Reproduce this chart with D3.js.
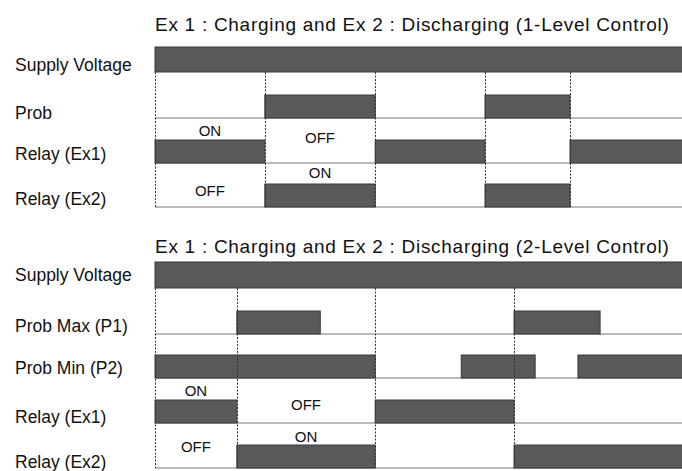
<!DOCTYPE html>
<html lang="en">
<head>
<meta charset="UTF-8">
<title>Relay timing</title>
<script src="https://cdn.jsdelivr.net/npm/d3@7"></script>
<style>
  body { margin: 0; background: #fff; }
  text { font-family: "Liberation Sans", Arial, sans-serif; fill: #111; }
</style>
</head>
<body>
<script>
// time runs 0..100 across the diagram (cut at right edge)
let titles = ["Ex 1 : Charging and Ex 2 : Discharging (1-Level Control)",
              "Ex 1 : Charging and Ex 2 : Discharging (2-Level Control)"]

// section 1 (1-level)
let rows1 = ["Supply Voltage", "Prob", "Relay (Ex1)", "Relay (Ex2)"]
let high1 = [
    [[0, 100]],
    [[20.8, 41.7], [62.5, 78.6]],
    [[0, 20.8], [41.7, 62.5], [78.6, 100]],
    [[20.8, 41.7], [62.5, 78.6]]
]
let marks1 = [0, 20.8, 41.7, 62.5, 78.6]
let notes1 = [
    {row: 2, from: 0, to: 20.8, text: "ON"},
    {row: 2, from: 20.8, to: 41.7, text: "OFF"},
    {row: 3, from: 20.8, to: 41.7, text: "ON"},
    {row: 3, from: 0, to: 20.8, text: "OFF"}
]

// section 2 (2-level)
let rows2 = ["Supply Voltage", "Prob Max (P1)", "Prob Min (P2)", "Relay (Ex1)", "Relay (Ex2)"]
let high2 = [
    [[0, 100]],
    [[15.5, 31.3], [68, 84.3]],
    [[0, 41.7], [58, 72], [80.1, 100]],
    [[0, 15.5], [41.7, 68]],
    [[15.5, 41.7], [68, 100]]
]
let marks2 = [0, 15.5, 41.7, 68]
let notes2 = [
    {row: 3, from: 0, to: 15.5, text: "ON"},
    {row: 3, from: 15.5, to: 41.7, text: "OFF"},
    {row: 4, from: 15.5, to: 41.7, text: "ON"},
    {row: 4, from: 0, to: 15.5, text: "OFF"}
]

// layout: row top / bottom / label baseline, note baselines
let layout = [
    {titleY: 31,
     rows: [{top: 47, bottom: 72, ly: 71}, {top: 95, bottom: 118, ly: 119},
            {top: 140, bottom: 163, ly: 160}, {top: 184, bottom: 207, ly: 205}],
     noteY: [136, 143, 178, 196]},
    {titleY: 253,
     rows: [{top: 262, bottom: 288, ly: 281}, {top: 311, bottom: 334, ly: 332},
            {top: 355, bottom: 378, ly: 374}, {top: 400, bottom: 423, ly: 423},
            {top: 445, bottom: 468, ly: 468}],
     noteY: [396, 410, 442, 452]}
]

let W = 682, H = 471
let svg = d3.select('body').append('svg')
    .attr('width', W).attr('height', H)

let x = d3.scaleLinear().domain([0, 100]).range([155, 683])

let sections = [
    {rows: rows1, high: high1, marks: marks1, notes: notes1},
    {rows: rows2, high: high2, marks: marks2, notes: notes2}
]

sections.forEach(function (s, si) {
    let L = layout[si]
    let g = svg.append('g')

    g.append('text')
        .attr('x', x(0))
        .attr('y', L.titleY)
        .style('font-size', '19px')
        .style('letter-spacing', '0.72px')
        .text(titles[si])

    // baselines (skip supply row)
    g.selectAll('line.base')
        .data(s.rows.slice(1))
        .enter()
        .append('line')
        .attr('class', 'base')
        .attr('x1', x(0)).attr('x2', x(100))
        .attr('y1', function (d, i) { return L.rows[i + 1].bottom })
        .attr('y2', function (d, i) { return L.rows[i + 1].bottom })
        .attr('stroke', '#a3a3a3')
        .attr('stroke-width', 1.5)

    // high segments
    s.high.forEach(function (segs, ri) {
        let r = L.rows[ri]
        g.selectAll('rect.r' + ri)
            .data(segs)
            .enter()
            .append('rect')
            .attr('class', 'r' + ri)
            .attr('x', function (d) { return x(d[0]) })
            .attr('width', function (d) { return x(d[1]) - x(d[0]) })
            .attr('y', r.top)
            .attr('height', r.bottom - r.top)
            .attr('fill', '#58595b')
            .attr('stroke', '#3a3a3a')
            .attr('stroke-width', 1)
    })

    // dashed transition marks
    let y0 = L.rows[0].bottom, y1 = L.rows[L.rows.length - 1].bottom
    g.selectAll('line.mark')
        .data(s.marks)
        .enter()
        .append('line')
        .attr('class', 'mark')
        .attr('x1', function (d) { return Math.round(x(d)) + 0.5 })
        .attr('x2', function (d) { return Math.round(x(d)) + 0.5 })
        .attr('y1', y0).attr('y2', y1)
        .attr('stroke', '#333')
        .attr('stroke-width', 1)
        .attr('stroke-dasharray', '2,1.5')

    // row labels
    g.selectAll('text.lab')
        .data(s.rows)
        .enter()
        .append('text')
        .attr('class', 'lab')
        .attr('x', 15)
        .attr('y', function (d, i) { return L.rows[i].ly })
        .style('font-size', '17.5px')
        .text(function (d) { return d })

    // ON / OFF notes
    g.selectAll('text.note')
        .data(s.notes)
        .enter()
        .append('text')
        .attr('class', 'note')
        .attr('x', function (d) { return (x(d.from) + x(d.to)) / 2 })
        .attr('y', function (d, i) { return L.noteY[i] })
        .attr('text-anchor', 'middle')
        .style('font-size', '15px')
        .text(function (d) { return d.text })
})
</script>
</body>
</html>
